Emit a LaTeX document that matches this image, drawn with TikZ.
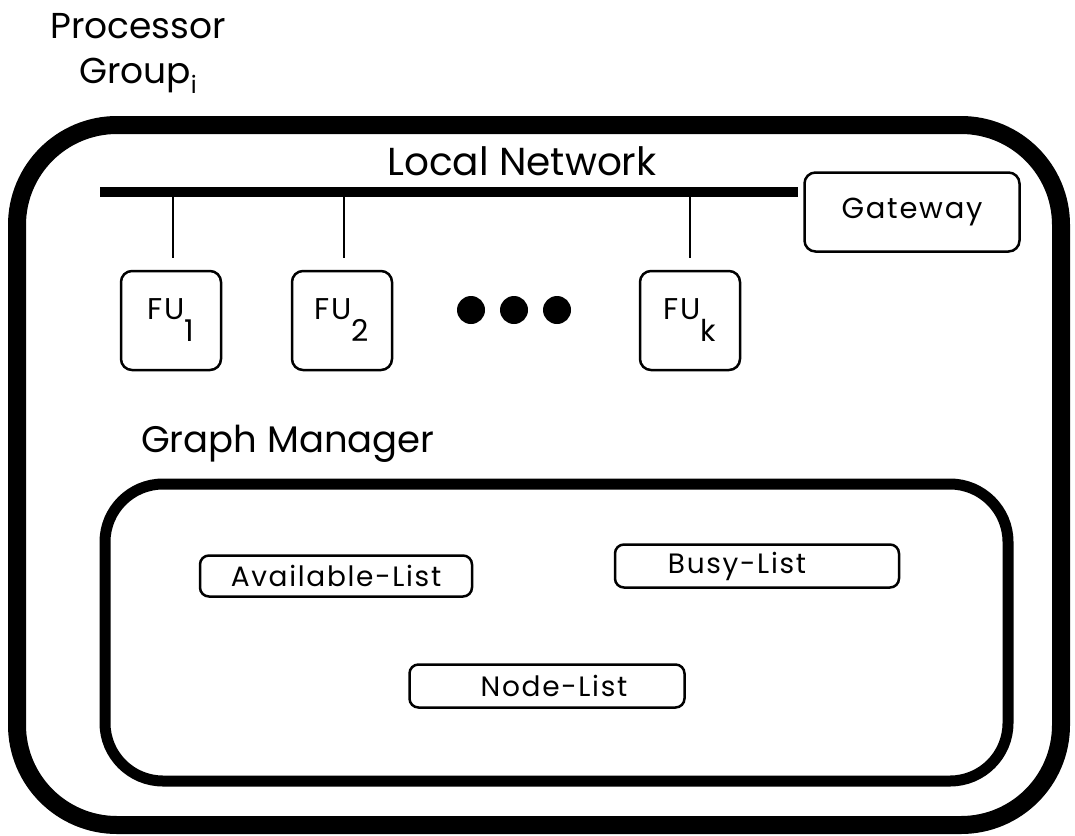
\documentclass[tikz,border=0pt]{standalone}
\usepackage{fontspec}
\setmainfont{Poppins}
\newfontfamily\spacedfont[LetterSpace=6]{Poppins}
\begin{document}
\begin{tikzpicture}[x=1pt,y=-1pt,
  title/.style={font=\fontsize{36}{45}\selectfont, inner sep=0pt},
  listbox/.style={draw, line width=2.5pt, rounded corners=9pt, inner sep=0pt,
    font=\spacedfont\fontsize{28}{32}\selectfont},
  fubox/.style={draw, line width=2.5pt, rounded corners=11pt, inner sep=0pt,
    minimum width=100pt, minimum height=99pt,
    font=\spacedfont\fontsize{30}{34}\selectfont},
  tap/.style={line width=2pt},
  dotmark/.style={circle, fill, inner sep=0pt, minimum size=28pt}]
\useasboundingbox (0,0) rectangle (1075,835);

% processor group enclosure and graph manager enclosure
\draw[line width=18pt, rounded corners=100pt] (17,125) rectangle (1061,825);
\draw[line width=11pt, rounded corners=58pt] (105,484) rectangle (1008,781);

% titles
\node[title, align=center, anchor=north] (title) at (138,13)
  {Processor\\Group\raisebox{-10pt}{\fontsize{24}{26}\selectfont i}};
\node[font=\fontsize{39}{44}\selectfont, inner sep=0pt, anchor=base] (netlabel)
  at (522,175) {Local Network};
\node[font=\fontsize{37}{42}\selectfont, inner sep=0pt, anchor=base west] (gm)
  at (141,452) {Graph Manager};

% gateway
\node[draw, line width=2.5pt, rounded corners=11pt, minimum width=215pt,
  minimum height=79pt, inner sep=0pt, font=\spacedfont\fontsize{29}{32}\selectfont]
  (gw) at (912,212) {Gateway};

% network bus
\coordinate (netL) at (100,191.5);
\coordinate (netR) at (798,191.5);
\draw[line width=10pt] (netL) -- (netR);

% functional units
\node[fubox] (fu1) at (171,320.5) {FU\raisebox{-22pt}{1}};
\node[fubox] (fu2) at (342,320.5) {FU\raisebox{-22pt}{2}};
\node[fubox] (fuk) at (690,320.5) {FU\raisebox{-22pt}{k}};

\draw[tap] ([xshift=2pt]fu1.north |- netR) -- ([xshift=2pt,yshift=12pt]fu1.north);
\draw[tap] ([xshift=2pt]fu2.north |- netR) -- ([xshift=2pt,yshift=12pt]fu2.north);
\draw[tap] (fuk.north |- netR) -- ([yshift=12pt]fuk.north);

\node[dotmark] (d1) at (471,310) {};
\node[dotmark] (d2) at (514,310) {};
\node[dotmark] (d3) at (557,310) {};

% graph manager lists
\node[listbox, minimum width=272pt, minimum height=41pt] (avail) at (336,576)
  {Available-List};
\node[listbox, minimum width=284pt, minimum height=43pt] (busy) at (757,566)
  {Busy-List\hspace*{40pt}};
\node[listbox, minimum width=275pt, minimum height=43pt] (nodes) at (547,686)
  {\hspace*{14pt}Node-List};
\end{tikzpicture}
\end{document}
